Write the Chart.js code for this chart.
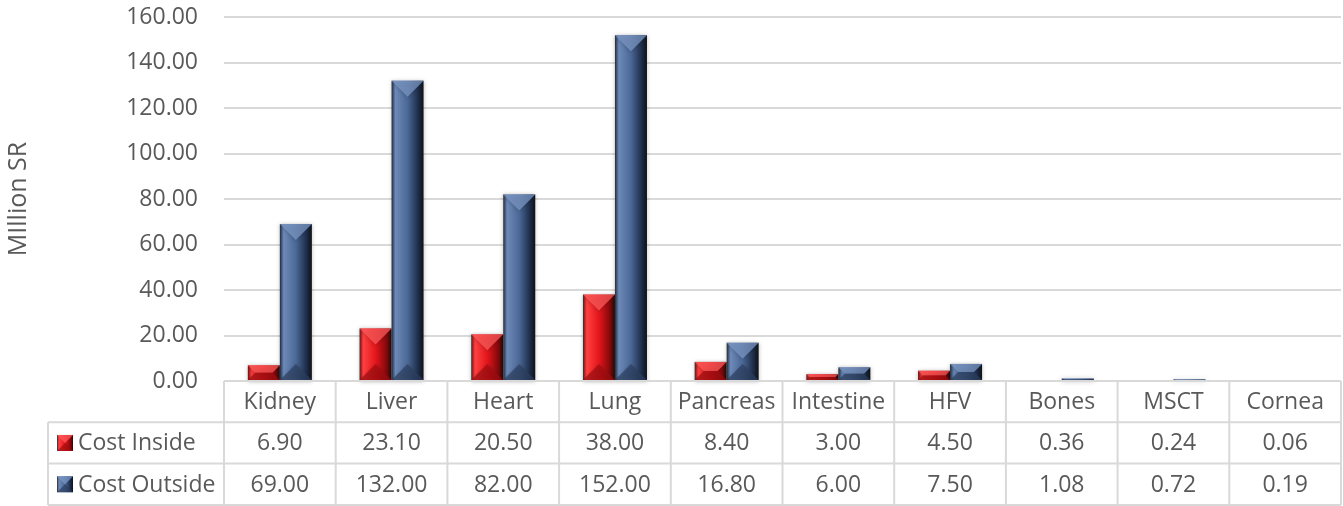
<!DOCTYPE html>
<html>
<head>
<meta charset="utf-8">
<script src="https://cdn.jsdelivr.net/npm/chart.js@4.4.1/dist/chart.umd.min.js"></script>
<style>
html,body{margin:0;padding:0;background:#fff;}
#wrap{width:1343px;height:506px;position:relative;}
</style>
</head>
<body>
<div id="wrap"><canvas id="c" width="1343" height="506"></canvas></div>
<script>
const categories = ["Kidney","Liver","Heart","Lung","Pancreas","Intestine","HFV","Bones","MSCT","Cornea"];
const costInside = [6.90,23.10,20.50,38.00,8.40,3.00,4.50,0.36,0.24,0.06];
const costOutside = [69.00,132.00,82.00,152.00,16.80,6.00,7.50,1.08,0.72,0.19];
const seriesNames = ["Cost Inside","Cost Outside"];
const yTicks = [0,20,40,60,80,100,120,140,160];
const yTitle = "MIllion SR";

const FONT = "'Open Sans', 'Noto Sans', sans-serif";
const TXT = "#595959";
const GRID = "#d9d9d9";

const palettes = [
  {edgeL:"#ff4040", mid:"#e3161c", edgeR:"#7d0a0c", top:"#ff5a5a", bot:"#9e0d10"},
  {edgeL:"#6c89b8", mid:"#4b6896", edgeR:"#1c2a44", top:"#7b97c4", bot:"#2c3f60"}
];

function drawBevel(ctx, x0, x1, yt, yb, p){
  const w = x1 - x0, h = yb - yt;
  if (h <= 0.2) return;
  const g = ctx.createLinearGradient(x0,0,x1,0);
  g.addColorStop(0, p.edgeR);
  g.addColorStop(0.12, p.edgeL);
  g.addColorStop(0.5, p.mid);
  g.addColorStop(0.85, p.edgeR);
  g.addColorStop(1, "#111");
  ctx.fillStyle = g;
  ctx.fillRect(x0, yt, w, h);
  const d = Math.min(w/2, h/2);
  ctx.fillStyle = p.top;
  ctx.globalAlpha = 0.75;
  ctx.beginPath();
  ctx.moveTo(x0, yt); ctx.lineTo(x1, yt); ctx.lineTo(x1-d, yt+d); ctx.lineTo(x0+d, yt+d); ctx.closePath();
  ctx.fill();
  ctx.fillStyle = p.bot;
  ctx.globalAlpha = 0.7;
  ctx.beginPath();
  ctx.moveTo(x0, yb); ctx.lineTo(x1, yb); ctx.lineTo(x1-d, yb-d); ctx.lineTo(x0+d, yb-d); ctx.closePath();
  ctx.fill();
  ctx.globalAlpha = 1;
}

const bevelPlugin = {
  id:"bevel",
  afterDatasetsDraw(chart){
    const ctx = chart.ctx;
    ctx.save();
    chart.data.datasets.forEach((ds, di) => {
      const meta = chart.getDatasetMeta(di);
      meta.data.forEach(bar => {
        const w = bar.width;
        const x0 = bar.x - w/2, x1 = bar.x + w/2;
        ctx.save();
        ctx.shadowColor = "rgba(0,0,0,0.25)";
        ctx.shadowBlur = 4;
        ctx.shadowOffsetY = 1;
        drawBevel(ctx, x0, x1, bar.y, bar.base, palettes[di]);
        ctx.restore();
      });
    });
    ctx.restore();
  }
};

const tablePlugin = {
  id:"datatable",
  afterDraw(chart){
    const ctx = chart.ctx;
    const x = chart.scales.x, y = chart.scales.y;
    const ca = chart.chartArea;
    const top = y.getPixelForValue(0);
    const rowH = 41.3;
    const rows = [top, top+rowH, top+2*rowH, top+3*rowH];
    const legLeft = 48;
    ctx.save();
    ctx.strokeStyle = GRID;
    ctx.lineWidth = 2;
    ctx.beginPath();
    ctx.moveTo(ca.left, rows[0]); ctx.lineTo(ca.right, rows[0]);
    for (let r=1;r<4;r++){ ctx.moveTo(legLeft, rows[r]); ctx.lineTo(ca.right, rows[r]); }
    const n = categories.length;
    const cw = (ca.right - ca.left)/n;
    for (let i=0;i<=n;i++){
      const xx = ca.left + i*cw;
      ctx.moveTo(xx, rows[0]); ctx.lineTo(xx, rows[3]);
    }
    ctx.moveTo(legLeft, rows[1]); ctx.lineTo(legLeft, rows[3]);
    ctx.stroke();

    ctx.fillStyle = TXT;
    ctx.font = "23px " + FONT;
    ctx.textAlign = "center";
    ctx.textBaseline = "middle";
    const series = [costInside, costOutside];
    categories.forEach((c,i) => {
      const cx = x.getPixelForValue(i);
      ctx.fillText(c, cx, (rows[0]+rows[1])/2 + 1);
      series.forEach((s, si) => {
        ctx.fillText(s[i].toFixed(2), cx, (rows[si+1]+rows[si+2])/2 + 1);
      });
    });
    ctx.textAlign = "left";
    seriesNames.forEach((nm, si) => {
      const cy = (rows[si+1]+rows[si+2])/2;
      drawBevel(ctx, 57, 73, cy-8, cy+8, palettes[si]);
      ctx.fillStyle = TXT;
      ctx.fillText(nm, 78, cy + 1);
    });
    ctx.restore();
  }
};

new Chart(document.getElementById("c"), {
  type:"bar",
  data:{
    labels: categories,
    datasets:[
      {label:seriesNames[0], data:costInside, backgroundColor:"rgba(0,0,0,0)", categoryPercentage:0.573, barPercentage:1},
      {label:seriesNames[1], data:costOutside, backgroundColor:"rgba(0,0,0,0)", categoryPercentage:0.573, barPercentage:1}
    ]
  },
  options:{
    responsive:false,
    animation:false,
    events:[],
    layout:{padding:{top:17, right:2, bottom:125, left:0}},
    plugins:{legend:{display:false}, tooltip:{enabled:false}},
    scales:{
      x:{
        display:false
      },
      y:{
        min:0, max:160,
        afterFit(s){ s.width = 224; s.paddingTop = 0; s.paddingBottom = 0; },
        afterBuildTicks(s){ s.ticks = yTicks.map(v => ({value:v})); },
        ticks:{
          padding:26,
          color:TXT,
          font:{family:FONT, size:23},
          callback:(v)=>Number(v).toFixed(2)
        },
        grid:{color:GRID, lineWidth:2, drawTicks:false},
        border:{display:false},
        title:{display:true, text:yTitle, color:TXT, font:{family:FONT, size:25}, padding:{top:4,bottom:0}}
      }
    }
  },
  plugins:[bevelPlugin, tablePlugin]
});
</script>
</body>
</html>
